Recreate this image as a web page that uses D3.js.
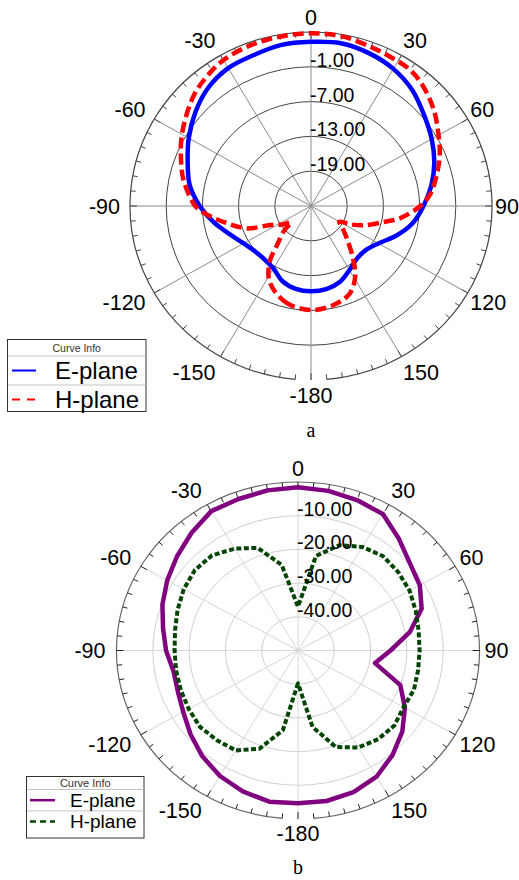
<!DOCTYPE html>
<html>
<head>
<meta charset="utf-8">
<script src="https://cdn.jsdelivr.net/npm/d3@7"></script>
<style>
  body { margin: 0; background: #fff; }
  svg { display: block; }
  text { font-family: "Liberation Sans", Arial, sans-serif; }
</style>
</head>
<body>
<div id="chart"></div>
<script>
// angle labels round the outer circle (deg)
var angleLabels = [0, 30, 60, 90, 120, 150, -180, -150, -120, -90, -60, -30];

// radial ring labels (dB)
var ringsA = [-19, -13, -7, -1];
var ringsB = [-40, -30, -20, -10];

// plot a: E-plane
var anglesAE = [-180, -170, -160, -150, -140, -130, -120, -110, -100, -90, -80, -70, -60, -50, -40, -30, -20, -10,
                0, 10, 20, 30, 40, 50, 60, 70, 80, 90, 100, 110, 120, 130, 140, 150, 160, 170];
var gainAE = [-10.3, -10.5, -11.2, -12.55, -13.0, -12.85, -12.1, -10.7, -8.65, -6.55, -4.6, -3.25, -1.6, 0.05, 1.55, 2.45, 2.7, 3.2,
              3.3, 3.5, 3.05, 2.3, 1.1, -0.55, -1.9, -3.25, -4.75, -6.35, -7.9, -10.0, -12.1, -13.15, -13.15, -12.25, -11.05, -10.45];

// plot a: H-plane
var anglesAH = [-180, -167, -157, -150, -144, -140, -134, -130, -124, -116, -110, -102, -96, -90, -78, -72, -62, -53, -45, -38, -30, -20, -10,
                0, 10, 20, 27, 35, 42, 51, 59, 67, 75, 84, 90, 98, 103, 111, 116, 120, 126, 134, 143, 149, 157, 168];
var gainAH = [-7.06, -7.75, -9.25, -10.93, -13.51, -16.3, -18.7, -20.65, -19.3, -17.5, -13.72, -10.75, -8.2, -5.83, -3.4, -2.41, -0.64, 0.89, 2.3, 3.2, 4.04, 4.46, 4.64,
              4.79, 4.7, 4.16, 3.89, 3.65, 2.78, 1.22, -0.4, -1.81, -3.37, -5.11, -6.88, -10.06, -12.67, -15.7, -17.8, -19.6, -18.55, -16.63, -13.33, -10.78, -8.59, -7.51];

// plot b: both planes every 10 deg
var anglesB = [-180, -170, -160, -150, -140, -130, -120, -110, -100, -90, -80, -70, -60, -50, -40, -30, -20, -10,
               0, 10, 20, 30, 40, 50, 60, 70, 80, 90, 100, 110, 120, 130, 140, 150, 160, 170];
var gainBE = [-4.65, -4.45, -5.5, -7.0, -9.0, -11.35, -13.5, -14.75, -15.15, -13.65, -12.25, -10.25, -8.4, -6.5, -4.4, -2.25, -2.15, -1.75,
              -1.55, -1.9, -2.5, -3.25, -6.75, -9.75, -11.25, -13.75, -18.75, -24.5, -28.45, -20.0, -16.0, -12.5, -9.5, -6.75, -5.25, -4.65];
var gainBH = [-40.25, -26.0, -19.0, -15.75, -15.25, -14.75, -15.25, -15.65, -15.9, -16.0, -15.6, -14.7, -13.65, -12.9, -13.15, -15.1, -17.6, -24.25,
              -37.0, -21.5, -16.75, -14.5, -13.5, -13.9, -14.5, -15.5, -16.25, -16.5, -16.4, -16.0, -16.4, -15.35, -15.65, -16.75, -19.5, -27.0];

var w = 519, h = 880;

var svg = d3.select("#chart").append("svg")
  .attr("width", w)
  .attr("height", h);

var panelA = {
  cx: 311, cy: 206, rx: 181, ry: 174, min: -25, max: 5,
  rings: ringsA, ring: "#444", spoke: "#8c8c8c", outer: "#444", tick: "#444",
  padR: 3, padL: 10, q: 15,
  series: [
    {name: "E-plane", angles: anglesAE, gain: gainAE, color: "#0000ff", width: 4.5, dash: null},
    {name: "H-plane", angles: anglesAH, gain: gainAH, color: "#ff0000", width: 4.5, dash: "11,5"}
  ],
  curve: d3.curveCatmullRomClosed.alpha(0.5),
  legend: {x: 7.5, y: 339.5, w: 138.5, h: 72, head: 16.5, row: 29, font: 24, headFont: 10.5,
           lx0: 12, lx1: 36, tx: 55, lw: 2, dash: ["", "8,7"]},
  caption: "a", capY: 437
};

var panelB = {
  cx: 298, cy: 650.5, rx: 181.5, ry: 168.5, min: -50, max: 0,
  rings: ringsB, ring: "#d0d0d0", spoke: "#d6d6d6", outer: "#666", tick: "#222",
  padR: 5, padL: 11, q: 14,
  series: [
    {name: "E-plane", angles: anglesB, gain: gainBE, color: "#800080", width: 4.5, dash: null},
    {name: "H-plane", angles: anglesB, gain: gainBH, color: "#004400", width: 4, dash: "5,2.5"}
  ],
  curve: d3.curveLinearClosed,
  legend: {x: 26.5, y: 776.5, w: 117.5, h: 61.5, head: 13, row: 21.4, font: 19, headFont: 11,
           lx0: 30, lx1: 55, tx: 70, lw: 2.5, dash: ["", "6,4"]},
  caption: "b", capY: 874
};

drawPanel(panelA);
drawPanel(panelB);

function drawPanel(p) {
  var rScale = d3.scaleLinear().domain([p.min, p.max]).range([0, 1]);
  var rad = function(d) { return d * Math.PI / 180; };

  function pt(deg, v) {
    var r = rScale(v), a = rad(deg);
    return [p.cx + p.rx * r * Math.sin(a), p.cy - p.ry * r * Math.cos(a)];
  }

  var g = svg.append("g");

  // rings
  g.selectAll(".ring")
    .data(p.rings)
    .enter().append("ellipse")
      .attr("cx", p.cx).attr("cy", p.cy)
      .attr("rx", function(d) { return p.rx * rScale(d); })
      .attr("ry", function(d) { return p.ry * rScale(d); })
      .attr("fill", "none")
      .attr("stroke", p.ring)
      .attr("stroke-width", 1);

  // spokes every 30 deg
  g.selectAll(".spoke")
    .data(d3.range(0, 360, 30))
    .enter().append("line")
      .attr("x1", p.cx).attr("y1", p.cy)
      .attr("x2", function(d) { return pt(d, p.max)[0]; })
      .attr("y2", function(d) { return pt(d, p.max)[1]; })
      .attr("stroke", p.spoke)
      .attr("stroke-width", 1);

  // outer circle, open round -180
  var s = pt(-175, p.max), e = pt(175, p.max);
  g.append("path")
    .attr("d", "M" + s[0] + "," + s[1] + " A" + p.rx + "," + p.ry + " 0 1 1 " + e[0] + "," + e[1])
    .attr("fill", "none")
    .attr("stroke", p.outer)
    .attr("stroke-width", 1.2);

  // ticks every 5 deg, pointing inward
  g.selectAll(".tick")
    .data(d3.range(-175, 185, 5))
    .enter().append("line")
      .attr("x1", function(d) { return pt(d, p.max)[0]; })
      .attr("y1", function(d) { return pt(d, p.max)[1]; })
      .attr("x2", function(d) { var len = d % 30 == 0 ? 7 : 5; return pt(d, p.max)[0] - len * Math.sin(rad(d)); })
      .attr("y2", function(d) { var len = d % 30 == 0 ? 7 : 5; return pt(d, p.max)[1] + len * Math.cos(rad(d)); })
      .attr("stroke", p.tick)
      .attr("stroke-width", 1);

  // angle labels
  g.selectAll(".alabel")
    .data(angleLabels)
    .enter().append("text")
      .attr("x", function(d) {
        var sn = Math.sin(rad(d));
        if (Math.abs(sn) < 1e-6) return p.cx;
        return p.cx + (p.rx + (sn > 0 ? p.padR : p.padL)) * sn;
      })
      .attr("y", function(d) {
        var q = p.q + 5 * Math.abs(Math.sin(rad(d)));
        return p.cy - (p.ry + q) * Math.cos(rad(d));
      })
      .attr("dy", "0.36em")
      .attr("text-anchor", function(d) {
        var sn = Math.sin(rad(d));
        if (Math.abs(sn) < 1e-6) return "middle";
        return sn > 0 ? "start" : "end";
      })
      .style("font-size", "21.5px")
      .attr("fill", "#000")
      .text(function(d) { return d; });

  // curves
  var line = d3.line()
    .x(function(d) { return pt(d[0], d[1])[0]; })
    .y(function(d) { return pt(d[0], d[1])[1]; })
    .curve(p.curve);

  p.series.forEach(function(sr) {
    var pts = sr.angles.map(function(a, i) { return [a, sr.gain[i]]; });
    g.append("path")
      .datum(pts)
      .attr("d", line)
      .attr("fill", "none")
      .attr("stroke", sr.color)
      .attr("stroke-width", sr.width)
      .attr("stroke-linejoin", "round")
      .attr("stroke-dasharray", sr.dash);
  });

  // ring labels, right of the vertical axis
  g.selectAll(".rlabel")
    .data(p.rings)
    .enter().append("text")
      .attr("x", p.cx - 1)
      .attr("y", function(d) { return pt(0, d)[1]; })
      .style("font-size", "19.5px")
      .attr("fill", "#000")
      .text(function(d) { return d.toFixed(2); });

  // legend box
  var L = p.legend;
  var lg = svg.append("g");
  lg.append("rect")
    .attr("x", L.x).attr("y", L.y)
    .attr("width", L.w).attr("height", L.h)
    .attr("fill", "#fff")
    .attr("stroke", "#333");
  [L.head, L.head + L.row].forEach(function(dy) {
    lg.append("line")
      .attr("x1", L.x + 0.5).attr("x2", L.x + L.w - 0.5)
      .attr("y1", L.y + dy).attr("y2", L.y + dy)
      .attr("stroke", "#c4c4c4");
  });
  lg.append("text")
    .attr("x", L.x + L.w / 2)
    .attr("y", L.y + L.head / 2)
    .attr("dy", "0.36em")
    .attr("text-anchor", "middle")
    .style("font-size", L.headFont + "px")
    .attr("fill", "#333")
    .text("Curve Info");
  p.series.forEach(function(sr, i) {
    var yc = L.y + L.head + L.row * (i + 0.5);
    lg.append("line")
      .attr("x1", L.lx0).attr("x2", L.lx1)
      .attr("y1", yc).attr("y2", yc)
      .attr("stroke", sr.color)
      .attr("stroke-width", L.lw)
      .attr("stroke-dasharray", L.dash[i] || null);
    lg.append("text")
      .attr("x", L.tx)
      .attr("y", yc)
      .attr("dy", "0.36em")
      .style("font-size", L.font + "px")
      .attr("fill", "#000")
      .text(sr.name);
  });

  // caption under the plot
  svg.append("text")
    .attr("x", p.cx)
    .attr("y", p.capY)
    .attr("text-anchor", "middle")
    .style("font-family", "'Liberation Serif', 'DejaVu Serif', serif")
    .style("font-size", "20px")
    .text(p.caption);
}
</script>
</body>
</html>
